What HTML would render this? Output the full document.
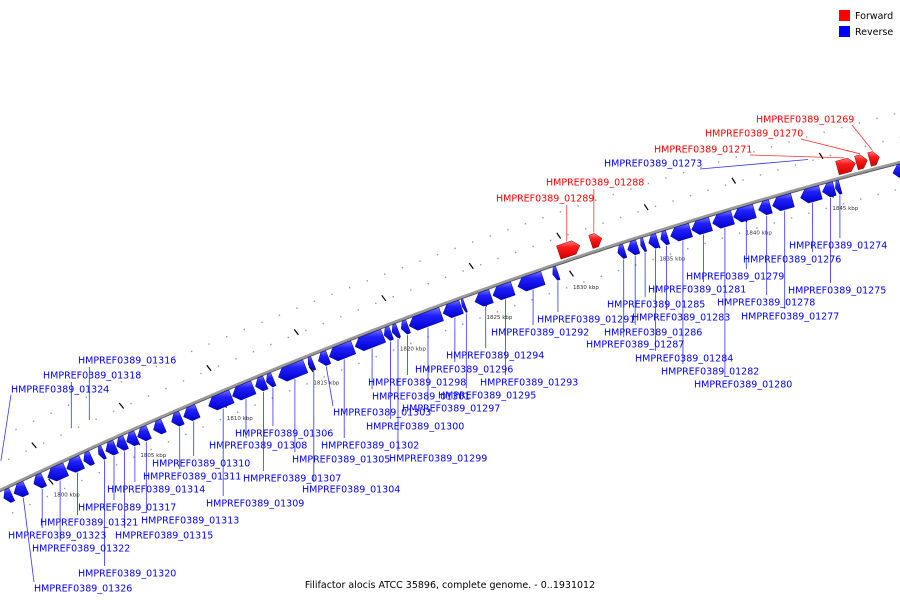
<!DOCTYPE html>
<html><head><meta charset="utf-8"><style>
html,body{margin:0;padding:0;background:#fff}
svg{display:block}
text{font-family:"DejaVu Sans","Liberation Sans",sans-serif}
</style></head><body>
<svg id="map" width="900" height="600" viewBox="0 0 900 600" xmlns="http://www.w3.org/2000/svg">
<defs>
<linearGradient id="gb" x1="0" y1="0" x2="0" y2="1"><stop offset="0" stop-color="#7a7aff"/><stop offset="0.35" stop-color="#2020ff"/><stop offset="1" stop-color="#0000c8"/></linearGradient>
<linearGradient id="gr" x1="0" y1="0" x2="0" y2="1"><stop offset="0" stop-color="#ff8080"/><stop offset="0.35" stop-color="#ff1a1a"/><stop offset="1" stop-color="#c80000"/></linearGradient>
</defs>
<g>
<rect x="839" y="10" width="11" height="11" fill="#ff0000"/>
<text x="855" y="19" font-size="9.5" fill="#000">Forward</text>
<rect x="839" y="26" width="11" height="11" fill="#0000ff"/>
<text x="855" y="35" font-size="9.5" fill="#000">Reverse</text>
</g>
<text x="450" y="588" font-size="9.5" text-anchor="middle" fill="#000">Filifactor alocis ATCC 35896, complete genome. - 0..1931012</text>
<g id="layer"></g>
</svg>
<script>
// ---- data (kbp) ----
const revStarts = [1797.41,1797.99,1799.14,1799.94,1801.03,1802.01,1802.87,1803.28,1803.91,1804.48,1805.11,1806.03,1807.07,1807.76,1809.2,1810.57,1811.9,1812.53,1813.22,1814.94,1815.52,1816.15,1817.64,1819.31,1819.77,1820.29,1820.75,1822.7,1823.79,1824.54,1825.57,1827.01,1829.02,1832.76,1833.33,1834.08,1834.54,1835.23,1835.8,1837.01,1838.22,1839.43,1840.86,1841.67,1843.28,1844.54,1845.29,1848.6];
const revEnds   = [1797.87,1798.68,1799.71,1800.98,1801.9,1802.47,1803.16,1803.85,1804.43,1805.06,1805.75,1806.61,1807.64,1808.56,1810.52,1811.78,1812.47,1812.93,1814.77,1815.23,1816.09,1817.53,1819.25,1819.71,1820.11,1820.69,1822.59,1823.74,1823.97,1825.46,1826.72,1828.45,1829.31,1833.16,1833.91,1834.31,1835.06,1835.63,1836.95,1838.1,1839.37,1840.63,1841.55,1842.82,1844.43,1845.23,1845.57,1849.5];
const fwdStarts = [1829.71,1831.55,1845.69,1846.78,1847.53];
const fwdEnds   = [1830.92,1832.18,1846.72,1847.41,1848.1];
const tinyGenes = [1798.1,1802.13,1803.16,1844.25];
const tickKbp = [1800,1805,1810,1815,1820,1825,1830,1835,1840,1845];
const tickLabels = ["1800 kbp","1805 kbp","1810 kbp","1815 kbp","1820 kbp","1825 kbp","1830 kbp","1835 kbp","1840 kbp","1845 kbp"];
// labels: name, strand(r/f/t), gene index, text x, text center y
const labelNames = ["HMPREF0389_01326","HMPREF0389_01323","HMPREF0389_01322","HMPREF0389_01321","HMPREF0389_01320","HMPREF0389_01317","HMPREF0389_01315","HMPREF0389_01314","HMPREF0389_01313","HMPREF0389_01311","HMPREF0389_01310","HMPREF0389_01309","HMPREF0389_01308","HMPREF0389_01307","HMPREF0389_01306","HMPREF0389_01305","HMPREF0389_01304","HMPREF0389_01303","HMPREF0389_01302","HMPREF0389_01301","HMPREF0389_01300","HMPREF0389_01299","HMPREF0389_01298","HMPREF0389_01297","HMPREF0389_01296","HMPREF0389_01295","HMPREF0389_01294","HMPREF0389_01293","HMPREF0389_01292","HMPREF0389_01291","HMPREF0389_01287","HMPREF0389_01286","HMPREF0389_01285","HMPREF0389_01284","HMPREF0389_01283","HMPREF0389_01282","HMPREF0389_01281","HMPREF0389_01280","HMPREF0389_01279","HMPREF0389_01278","HMPREF0389_01277","HMPREF0389_01276","HMPREF0389_01275","HMPREF0389_01274","HMPREF0389_01289","HMPREF0389_01288","HMPREF0389_01271","HMPREF0389_01270","HMPREF0389_01269","HMPREF0389_01324","HMPREF0389_01318","HMPREF0389_01316","HMPREF0389_01273"];
const labelStrand = ["r","r","r","r","r","r","r","r","r","r","r","r","r","r","r","r","r","r","r","r","r","r","r","r","r","r","r","r","r","r","r","r","r","r","r","r","r","r","r","r","r","r","r","r","f","f","f","f","f","t","t","t","t"];
const labelGene = [1,2,3,4,6,7,8,9,10,12,13,14,15,16,17,18,19,20,21,22,23,24,25,26,27,28,29,30,31,32,33,34,35,36,37,38,39,40,41,42,43,44,45,46,0,1,2,3,4,0,1,2,3];
const labelX = [34,8,32,40,78,78,115,107,141,143,152,206,209,243,235,292,302,333,321,372,366,389,368,402,415,438,446,480,491,537,586,604,607,635,632,661,648,694,686,717,741,743,788,789,496,546,654,705,756,11,43,78,604];
const labelY = [588,535,548,522,573,507,535,489,520,476,463,503,445,478,433,459,489,412,445,396,426,458,382,408,369,395,355,382,332,319,344,332,304,358,317,371,289,384,276,302,316,259,290,245,198,182,149,133,119,389,375,360,163];

// ---- axis / geometry ----
function kx(k){ return 45 + (k-1800)*17.4; }
function cy(x){ return 490 - 0.4744*x + 0.0001222*x*x; }
function slope(x){ return -0.4744 + 2*0.0001222*x; }
function pt(k, off){ const x=kx(k), s=slope(x), n=Math.hypot(1,s); return [x + (-s/n)*off, cy(x) + (1/n)*off]; }

const NS="http://www.w3.org/2000/svg", layer=document.getElementById('layer');
function mk(tag, attrs){ const e=document.createElementNS(NS,tag); for(const a in attrs) e.setAttribute(a,attrs[a]); layer.appendChild(e); return e; }

// dots and ticks rows
for(let k=1797; k<=1851; k+=1){
  for(const off of [-24,-48,26]){
    const p=pt(k+0.5,off);
    const d=mk('rect',{x:p[0]-0.7,y:p[1]-0.7,width:1.4,height:1.4,fill:'#999'});
    
    
  }
}
tickKbp.forEach((k,i)=>{
  for(const off of [-26,14]){
    const a=pt(k,off-3), b=pt(k,off+3);
    const t=mk('line',{x1:a[0]-1,y1:a[1],x2:b[0]+1,y2:b[1],stroke:'#000','stroke-width':1.2});
    
    
  }
  const p=pt(k,28);
  const tl=mk('text',{x:p[0]+10,y:p[1]+2,'font-size':5.5,'font-family':'Liberation Serif, serif',fill:'#333','text-anchor':'middle'});
  tl.textContent=tickLabels[i];
  
  
});

// backbone
let dpath='', dsh='';
for(let x=-5;x<=905;x+=5){ dpath+=(x<0?'M':'L')+x+','+cy(x).toFixed(1)+' '; dsh+=(x<0?'M':'L')+x+','+(cy(x)+1.5).toFixed(1)+' '; }
const sh=mk('path',{d:dsh,fill:'none',stroke:'#555','stroke-width':1.5});


const bb=mk('path',{d:dpath,fill:'none',stroke:'#9a9a9a','stroke-width':2.5});



function gene(s,e,off1,off2,reverse,fill,dark){
  const len=kx(e)-kx(s), tip=Math.min(6,len*0.5)/17.4;
  let pts;
  if(reverse){ pts=[pt(s,(off1+off2)/2),pt(s+tip,off1),pt(e,off1),pt(e,off2),pt(s+tip,off2)]; }
  else { pts=[pt(s,off1),pt(e-tip,off1),pt(e,(off1+off2)/2),pt(e-tip,off2),pt(s,off2)]; }
  const g=mk('polygon',{points:pts.map(p=>p[0].toFixed(1)+','+p[1].toFixed(1)).join(' '),fill:fill,stroke:dark,'stroke-width':0.5});
  return g;
}
revStarts.forEach((s,i)=>{
  const g=gene(s,revEnds[i],2,16,true,'url(#gb)','#0000a0');
  
  
});
fwdStarts.forEach((s,i)=>{
  const g=gene(s,fwdEnds[i],-17,-3,false,'url(#gr)','#a00000');
  
  
});

// labels
const TW=96;
labelNames.forEach((nm,i)=>{
  const st=labelStrand[i], gi=labelGene[i];
  let anchor, col;
  if(st==='r'){ const k=(revStarts[gi]+revEnds[gi])/2; anchor=pt(k,17); col='#0000ff'; }
  else if(st==='f'){ const k=(fwdStarts[gi]+fwdEnds[gi])/2; anchor=pt(k,-18); col='#ff0000'; }
  else { anchor=pt(tinyGenes[gi],-26); col='#0000ff'; }
  const lx=labelX[i], ly=labelY[i];
  let ex, ey;
  if(st==='r'){
    if(anchor[0]>=lx && anchor[0]<=lx+TW){ ex=anchor[0]; ey=ly-7; }
    else if(anchor[0]>lx+TW){ ex=lx+TW; ey=ly-6; }
    else { ex=lx; ey=ly-6; }
  } else {
    if(anchor[0]>=lx && anchor[0]<=lx+TW){ ex=anchor[0]; ey=ly+7; }
    else if(anchor[0]>lx+TW){ ex=lx+TW; ey=ly+6; }
    else { ex=lx; ey=ly+6; }
  }
  const l=mk('line',{x1:anchor[0].toFixed(1),y1:anchor[1].toFixed(1),x2:ex,y2:ey,stroke:col,'stroke-width':0.8,'stroke-opacity':0.8});
  
  
  const t=mk('text',{x:lx,y:ly+3.5,'font-size':9.5,fill:col});
  t.textContent=nm;
  
  
});
</script>
</body></html>
